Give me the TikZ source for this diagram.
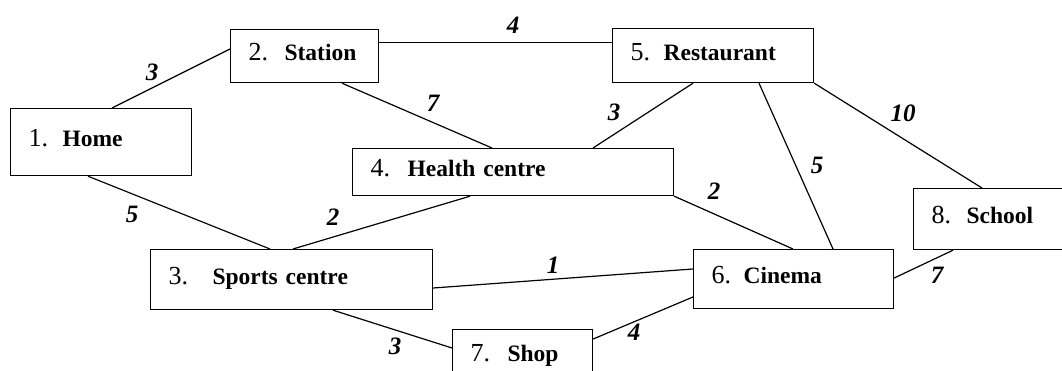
\documentclass[tikz,border=0pt]{standalone}
\usepackage{fontspec}
\setmainfont{Liberation Serif}
\usetikzlibrary{calc}
\newcommand{\boxlab}[3]{\makebox[#2][l]{\fontsize{26}{28}\selectfont #1}\textbf{#3}}
\tikzset{
  box/.style={draw, line width=1.2pt, anchor=north west, inner xsep=18pt, inner ysep=0pt,
    align=left, text height=14pt, text depth=5pt, font=\fontsize{23.5}{27}\selectfont},
  link/.style={line width=1.2pt},
  wt/.style={font=\fontsize{25}{28}\selectfont\bfseries\itshape, inner sep=0pt}
}
\begin{document}
\begin{tikzpicture}[x=1pt,y=-1pt]
\useasboundingbox (0,0) rectangle (1062,371);
% boxes
\node[box, text width=145pt, minimum height=67pt] (home) at (10,108) {\boxlab{1.}{34pt}{Home}};
\node[box, text width=112pt, minimum height=53pt] (station) at (230,29) {\boxlab{2.}{36pt}{Station}};
\node[box, text width=165pt, minimum height=54pt] (rest) at (612,28) {\boxlab{5.}{33pt}{Restaurant}};
\node[box, text width=285pt, minimum height=47pt] (health) at (352,148) {\boxlab{4.}{37pt}{Health centre}};
\node[box, text width=119pt, minimum height=61pt] (school) at (913,188) {\boxlab{8.}{35pt}{School}};
\node[box, text width=164pt, minimum height=59pt] (cinema) at (693,249) {\boxlab{6.}{32pt}{Cinema}};
\node[box, text width=246pt, minimum height=60pt] (sports) at (150,249) {\boxlab{3.}{44pt}{Sports centre}};
\node[box, text width=104pt, minimum height=55pt] (shop) at (452,329) {\boxlab{7.}{37pt}{Shop}};
% connectors
\draw[link] ($(home.north west)+(102,0)$) -- ($(station.north west)+(0,20)$);
\draw[link] ($(station.north east)+(0,13.5)$) -- ($(rest.north west)+(0,14.5)$);
\draw[link] ($(station.south west)+(112,0)$) -- ($(health.north west)+(140,0)$);
\draw[link] ($(rest.south west)+(81,0)$) -- ($(health.north west)+(241,0)$);
\draw[link] ($(rest.south west)+(147,0)$) -- ($(cinema.north west)+(140,0)$);
\draw[link] (rest.south east) -- ($(school.north west)+(69,0)$);
\draw[link] (health.south east) -- ($(cinema.north west)+(100,0)$);
\draw[link] ($(home.south west)+(78,0)$) -- ($(sports.north west)+(120,0)$);
\draw[link] ($(health.south west)+(118,0)$) -- ($(sports.north west)+(143,0)$);
\draw[link] ($(sports.north east)+(0,39)$) -- ($(cinema.north west)+(0,20)$);
\draw[link] ($(sports.south west)+(183,0)$) -- ($(shop.north west)+(0,19)$);
\draw[link] ($(shop.north east)+(0,10)$) -- ($(cinema.north west)+(0,48)$);
\draw[link] ($(cinema.north east)+(0,29)$) -- ($(school.south west)+(40,0)$);
% weights
\node[wt] (w12) at (152,72) {3};
\node[wt] (w25) at (513,25) {4};
\node[wt] (w24) at (433,103) {7};
\node[wt] (w54) at (614,112) {3};
\node[wt] (w58) at (903,113) {10};
\node[wt] (w56) at (817,165) {5};
\node[wt] (w46) at (714,191) {2};
\node[wt] (w13) at (132,214) {5};
\node[wt] (w43) at (333,217) {2};
\node[wt] (w36) at (553,265) {1};
\node[wt] (w86) at (937,275) {7};
\node[wt] (w37) at (395,346) {3};
\node[wt] (w76) at (634,332) {4};
\end{tikzpicture}
\end{document}
